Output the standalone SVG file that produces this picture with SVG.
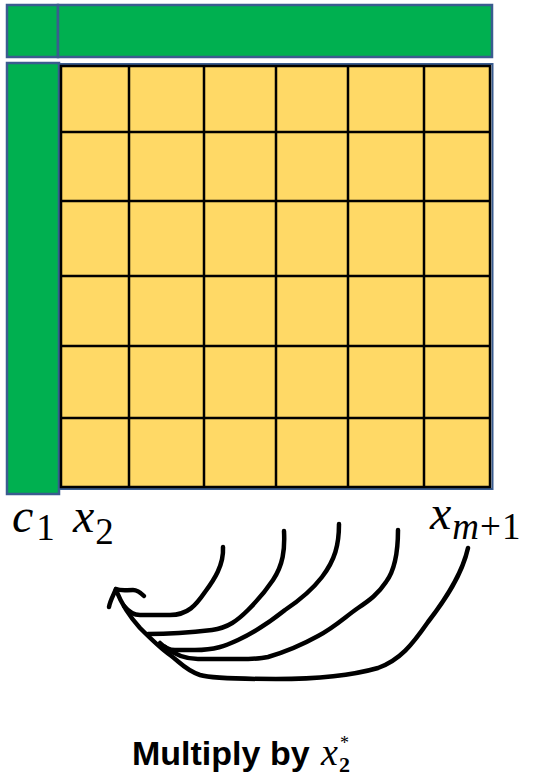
<svg xmlns="http://www.w3.org/2000/svg" width="534" height="776" viewBox="0 0 534 776">
<style>
.bar{fill:#00B050;stroke:#3A5C8F;stroke-width:2.5}
.cell{fill:#FFD966;stroke:#000;stroke-width:2.5}
.grid line{stroke:#000;stroke-width:2.5}
.stroke{fill:none;stroke:#000;stroke-width:4.5;stroke-linecap:round;stroke-linejoin:round}
.math{font-family:"Liberation Serif","DejaVu Serif",serif;font-size:48px;fill:#000}
.mi{font-style:italic}
.sub{font-size:37px}
.cap{font-family:"Liberation Sans",Arial,sans-serif;font-weight:bold;font-size:34px;fill:#000}
</style>
<g id="top-bar">
<rect class="bar" x="7" y="5" width="51" height="52"/>
<rect class="bar" x="58" y="5" width="434" height="52"/>
</g>
<g id="left-bar">
<rect class="bar" x="7" y="63" width="52" height="431"/>
</g>
<g id="matrix">
<rect x="59.5" y="64" width="433" height="425" fill="none" stroke="#3A5C8F" stroke-width="2"/>
<rect class="cell" x="61" y="66" width="429" height="421"/>
<g class="grid">
<line x1="129" y1="66" x2="129" y2="487"/>
<line x1="204" y1="66" x2="204" y2="487"/>
<line x1="276" y1="66" x2="276" y2="487"/>
<line x1="348" y1="66" x2="348" y2="487"/>
<line x1="424" y1="66" x2="424" y2="487"/>
<line x1="61" y1="132" x2="490" y2="132"/>
<line x1="61" y1="201" x2="490" y2="201"/>
<line x1="61" y1="276" x2="490" y2="276"/>
<line x1="61" y1="346" x2="490" y2="346"/>
<line x1="61" y1="418" x2="490" y2="418"/>
</g>
</g>
<g id="label-c1">
<text class="math" x="12" y="532"><tspan class="mi">c</tspan><tspan class="sub" dx="3" dy="8">1</tspan></text>
</g>
<g id="label-x2">
<text class="math" x="73" y="532"><tspan class="mi">x</tspan><tspan class="sub" dx="1" dy="12">2</tspan></text>
</g>
<g id="label-xm1">
<text class="math" x="430" y="529"><tspan class="mi">x</tspan><tspan class="sub" dx="1" dy="10"><tspan class="mi">m</tspan><tspan dx="1">+</tspan><tspan dx="1">1</tspan></tspan></text>
</g>
<g id="connectors">
<path class="stroke" d="M468,548 C462,575 445,600 428,622 C412,645 400,660 378,668 C350,676 320,679 276,679 C240,679 210,678 200,675 C185,670 180,662 170,655 C160,648 150,638 140,628 C130,617 122,605 116,590"/>
<path class="stroke" d="M116,589 C113,596 110,601 109,607"/>
<path class="stroke" d="M116,589 C121,591 125,590 133,590 C138,590 141,593 144,596"/>
<path class="stroke" d="M223,547 C224,565 214,580 205,592 C196,605 188,615 170,615 L140,615 C133,615 128,611 124,606"/>
<path class="stroke" d="M284,531 C285,550 283,565 273,580 C265,592 258,600 248,610 C238,620 228,628 212,630 C195,632 170,634 148,634"/>
<path class="stroke" d="M339,524 C339,545 335,560 322,577 C312,590 300,600 285,610 C270,622 255,632 238,640 C225,646 215,650 195,650 L175,650 C168,650 163,646 160,643"/>
<path class="stroke" d="M398,530 C398,550 395,570 386,582 C378,594 370,600 358,608 C345,617 335,627 318,636 C300,646 285,652 268,657 C255,660 240,659 225,659 L198,659 C185,659 175,655 165,647"/>
</g>
<g id="caption">
<text class="cap" x="132" y="765">Multiply by</text>
<text x="321" y="765" font-family="Liberation Serif,serif" font-style="italic" font-size="38">x</text>
<text x="339" y="772" font-family="Liberation Serif,serif" font-weight="bold" font-size="22">2</text>
<text x="340" y="749" font-family="Liberation Serif,serif" font-size="18">*</text>
</g>
</svg>
